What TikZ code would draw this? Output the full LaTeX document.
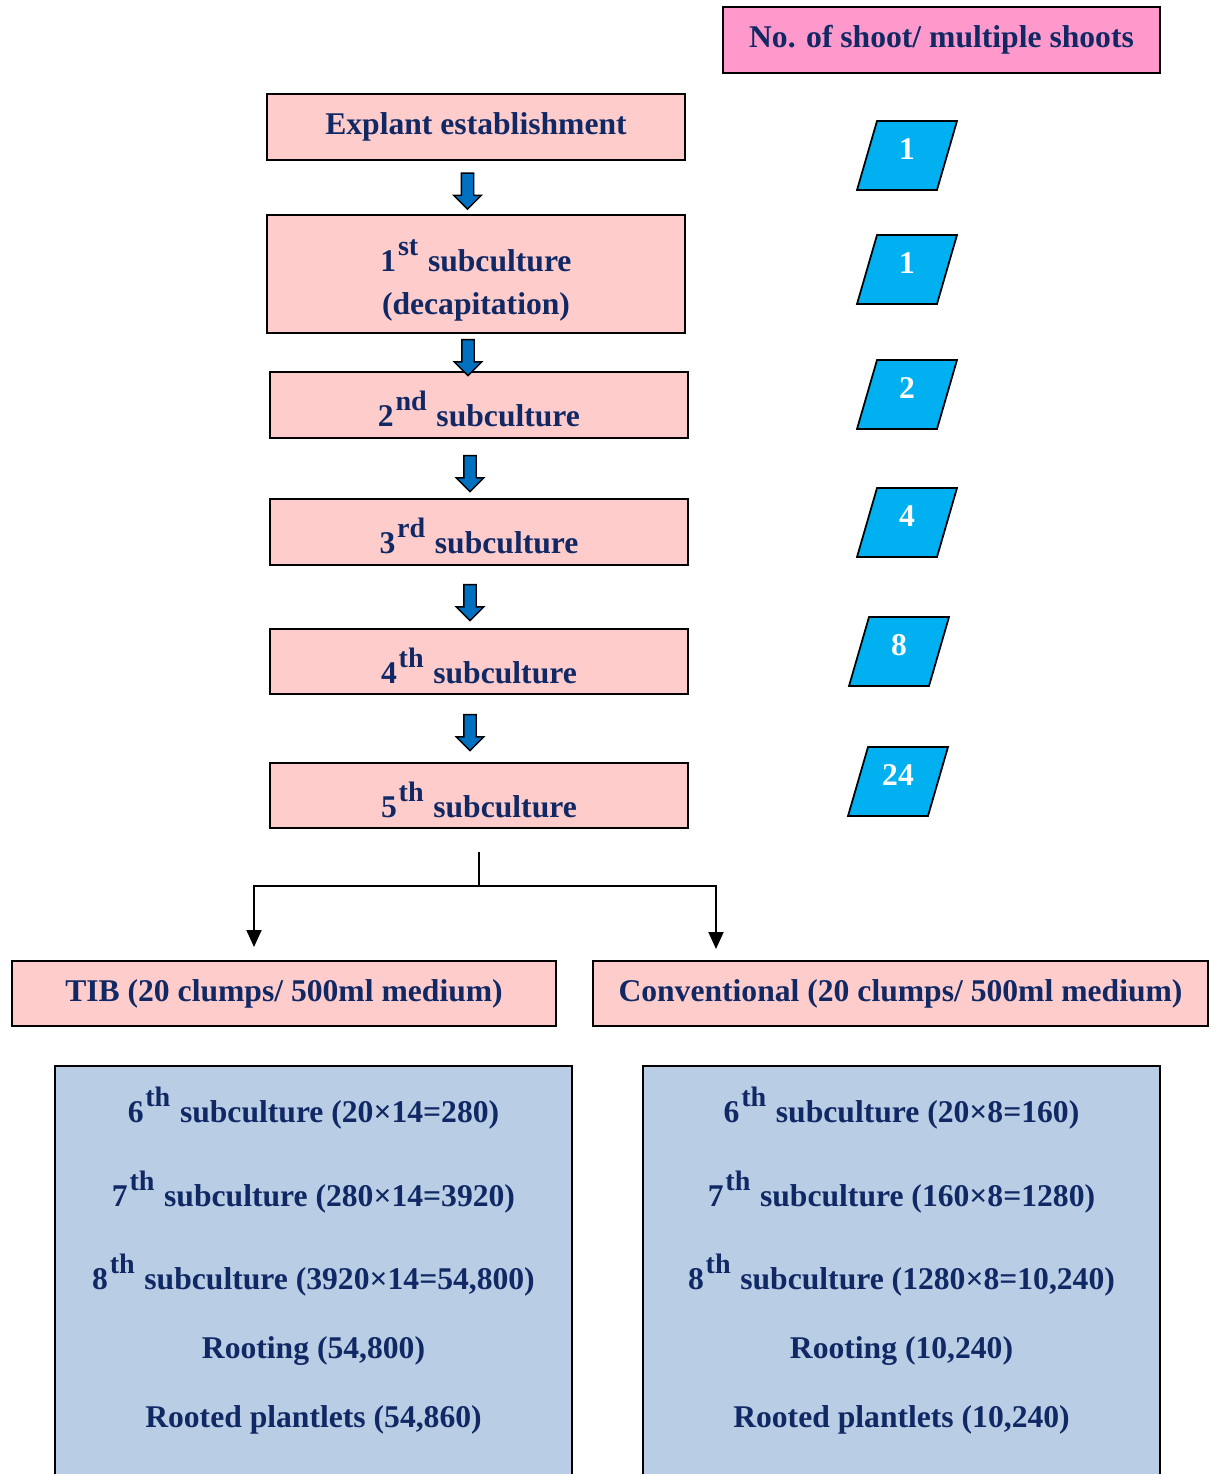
\documentclass[tikz,border=0pt]{standalone}
\usepackage{fontspec}
\setmainfont{Liberation Serif}
\usetikzlibrary{shapes.arrows,arrows.meta}
\definecolor{navy}{RGB}{16,40,100}
\definecolor{pinkbox}{RGB}{255,204,204}
\definecolor{headpink}{RGB}{255,153,204}
\definecolor{skyblue}{RGB}{0,176,240}
\definecolor{steelbox}{RGB}{185,205,229}
\definecolor{arrowblue}{RGB}{0,112,192}
\newcommand{\sups}[1]{\raisebox{0.5em}[25pt][0pt]{\fontsize{16}{16}\selectfont\kern1pt #1\kern1pt}}

\begin{document}
\begin{tikzpicture}[x=0.02cm,y=-0.02cm]
\tikzstyle{every node}=[font=\fontsize{18}{24.5}\selectfont\bfseries, text=navy];
\tikzstyle{stage}=[draw, line width=1pt, fill=pinkbox, minimum width=8.36cm, minimum height=1.32cm, inner sep=0pt, align=center];
\tikzstyle{method}=[stage, minimum height=1.3cm];
\tikzstyle{shootbox}=[draw, line width=1pt, fill=skyblue, xslant=0.29, minimum width=1.6cm, minimum height=1.38cm, inner sep=0pt];
\tikzstyle{barrow}=[draw, line width=0.8pt, fill=arrowblue, single arrow, rotate=-90, single arrow head extend=0.15cm, single arrow head indent=0pt, minimum width=0.52cm, minimum height=0.72cm, inner sep=0.11cm];
\tikzstyle{resultbox}=[draw, line width=1pt, fill=steelbox, minimum width=10.34cm, minimum height=8.68cm, inner sep=0pt];
\tikzstyle{branch}=[line width=1.1pt, -{Triangle[length=0.34cm,width=0.3cm]}];
\useasboundingbox (0,0) rectangle (1215,1474);

\node[stage, fill=headpink, minimum width=8.74cm] (head) at (941.5,40) {No. of shoot/ multiple shoots};

\node[stage] (explant) at (476,127) {Explant establishment};
\node[stage, minimum height=2.36cm] (sub1) at (476,274) {1\sups{st} subculture\\(decapitation)};
\node[stage] (sub2) at (479,405) {2\sups{nd} subculture};
\node[stage] (sub3) at (479,532) {3\sups{rd} subculture};
\node[stage, minimum height=1.3cm] (sub4) at (479,661.5) {4\sups{th} subculture};
\node[stage, minimum height=1.3cm] (sub5) at (479,795.5) {5\sups{th} subculture};

\foreach \n/\x/\y in {1/467.5/188, 2/468/354.5, 3/470/470.5, 4/470/599.5, 5/470/729.5}
{
\node[barrow] (arr\n) at (\x,\y) {};
}

\foreach \n/\x/\y/\v in {1/907/155.5/1, 2/907/269.5/1, 3/907/394.5/2, 4/907/522.5/4, 5/899/651.5/8, 6/898/781.5/24}
{
\node[shootbox, label={[text=white, yshift=0.12cm]center:\v}] (shoot\n) at (\x,\y) {};
}

% split into the two systems
\coordinate (split) at (479,886);
\coordinate (tibin) at (254,947);
\coordinate (convin) at (716,949);
\draw[line width=1.1pt] ([yshift=-0.46cm]sub5.south) -- (split);
\draw[branch] (split) -| (tibin);
\draw[branch] (split) -| (convin);

\node[method, minimum width=10.88cm] (tib) at (284,993.5) {TIB (20 clumps/ 500ml medium)};
\node[method, minimum width=12.3cm] (conv) at (900.5,993.5) {Conventional (20 clumps/ 500ml medium)};

\node[resultbox] (tibres) at (313.5,1283) {};
\node[resultbox] (convres) at (901.5,1283) {};

\node[anchor=base] (tib6) at (313.5,1122) {6\sups{th} subculture (20×14=280)};
\node[anchor=base] (tib7) at (313.5,1206) {7\sups{th} subculture (280×14=3920)};
\node[anchor=base] (tib8) at (313.5,1289) {8\sups{th} subculture (3920×14=54,800)};
\node[anchor=base] (tibroot) at (313.5,1358) {Rooting (54,800)};
\node[anchor=base] (tibplant) at (313.5,1427) {Rooted plantlets (54,860)};

\node[anchor=base] (conv6) at (901.5,1122) {6\sups{th} subculture (20×8=160)};
\node[anchor=base] (conv7) at (901.5,1206) {7\sups{th} subculture (160×8=1280)};
\node[anchor=base] (conv8) at (901.5,1289) {8\sups{th} subculture (1280×8=10,240)};
\node[anchor=base] (convroot) at (901.5,1358) {Rooting (10,240)};
\node[anchor=base] (convplant) at (901.5,1427) {Rooted plantlets (10,240)};
\end{tikzpicture}
\end{document}
